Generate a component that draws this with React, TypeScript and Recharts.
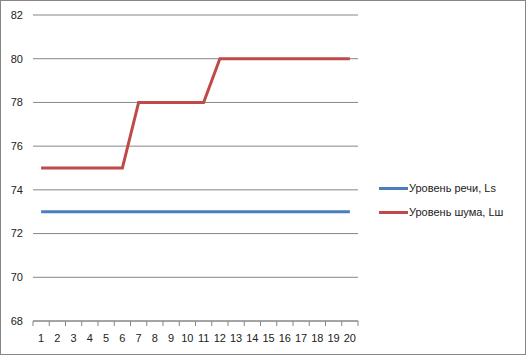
import { CartesianGrid, Line, LineChart, XAxis, YAxis } from "recharts";

const categories = ["1", "2", "3", "4", "5", "6", "7", "8", "9", "10", "11", "12", "13", "14", "15", "16", "17", "18", "19", "20"];
const speechLevel = [73, 73, 73, 73, 73, 73, 73, 73, 73, 73, 73, 73, 73, 73, 73, 73, 73, 73, 73, 73];
const noiseLevel = [75, 75, 75, 75, 75, 75, 78, 78, 78, 78, 78, 80, 80, 80, 80, 80, 80, 80, 80, 80];
const yTicks = [68, 70, 72, 74, 76, 78, 80, 82];

const seriesInfo = [
  { key: "speech", name: "Уровень речи, Ls", color: "#4A7EBB" },
  { key: "noise", name: "Уровень шума, Lш", color: "#BE4B48" },
];

const data = categories.map((c, i) => ({ cat: c, speech: speechLevel[i], noise: noiseLevel[i] }));

const W = 526;
const H = 355;
const PLOT_LEFT = 33;
const PLOT_RIGHT = 358;
const BAND = (PLOT_RIGHT - PLOT_LEFT) / categories.length;
const FONT = "'Liberation Sans', Arial, sans-serif";

function XTick(props: any) {
  const { x, y, payload, index } = props;
  const right = x + BAND / 2;
  const left = x - BAND / 2;
  return (
    <g>
      {index === 0 && <line x1={left} x2={left} y1={y - 8} y2={y - 3} stroke="#868686" />}
      <line x1={right} x2={right} y1={y - 8} y2={y - 3} stroke="#868686" />
      <text x={x} y={y + 13} textAnchor="middle" fontSize={11} fill="#222" fontFamily={FONT}>
        {payload.value}
      </text>
    </g>
  );
}

function LegendBox() {
  return (
    <div style={{ position: "absolute", left: 379, top: 176, fontFamily: FONT, fontSize: 11, color: "#222" }}>
      {seriesInfo.map((s) => (
        <div key={s.key} style={{ display: "flex", alignItems: "center", height: 24 }}>
          <span style={{ display: "inline-block", width: 29, height: 3, background: s.color }} />
          <span style={{ marginLeft: 1 }}>{s.name}</span>
        </div>
      ))}
    </div>
  );
}

export default function App() {
  return (
    <div style={{ position: "fixed", left: 0, top: 0, width: W, height: H, background: "#fff" }}>
      <LineChart
        width={W}
        height={H}
        data={data}
        margin={{ top: 15, right: W - PLOT_RIGHT, bottom: 0, left: 0 }}
      >
        <CartesianGrid vertical={false} stroke="#868686" />
        <XAxis
          dataKey="cat"
          height={H - 321}
          stroke="#868686"
          tickLine={false}
          tick={<XTick />}
          interval={0}
          padding={{ left: BAND / 2, right: BAND / 2 }}
        />
        <YAxis
          width={PLOT_LEFT}
          domain={[68, 82]}
          ticks={yTicks}
          axisLine={false}
          tickLine={false}
          tickSize={6}
          tickMargin={4}
          tick={{ fontSize: 11, fill: "#222", fontFamily: FONT }}
        />
        {seriesInfo.map((s) => (
          <Line
            key={s.key}
            dataKey={s.key}
            name={s.name}
            stroke={s.color}
            strokeWidth={3}
            dot={false}
            type="linear"
            isAnimationActive={false}
          />
        ))}
      </LineChart>
      <LegendBox />
      <div
        style={{
          position: "absolute",
          left: 0,
          top: 0,
          width: W,
          height: H,
          boxSizing: "border-box",
          border: "1px solid #868686",
          pointerEvents: "none",
        }}
      />
    </div>
  );
}
